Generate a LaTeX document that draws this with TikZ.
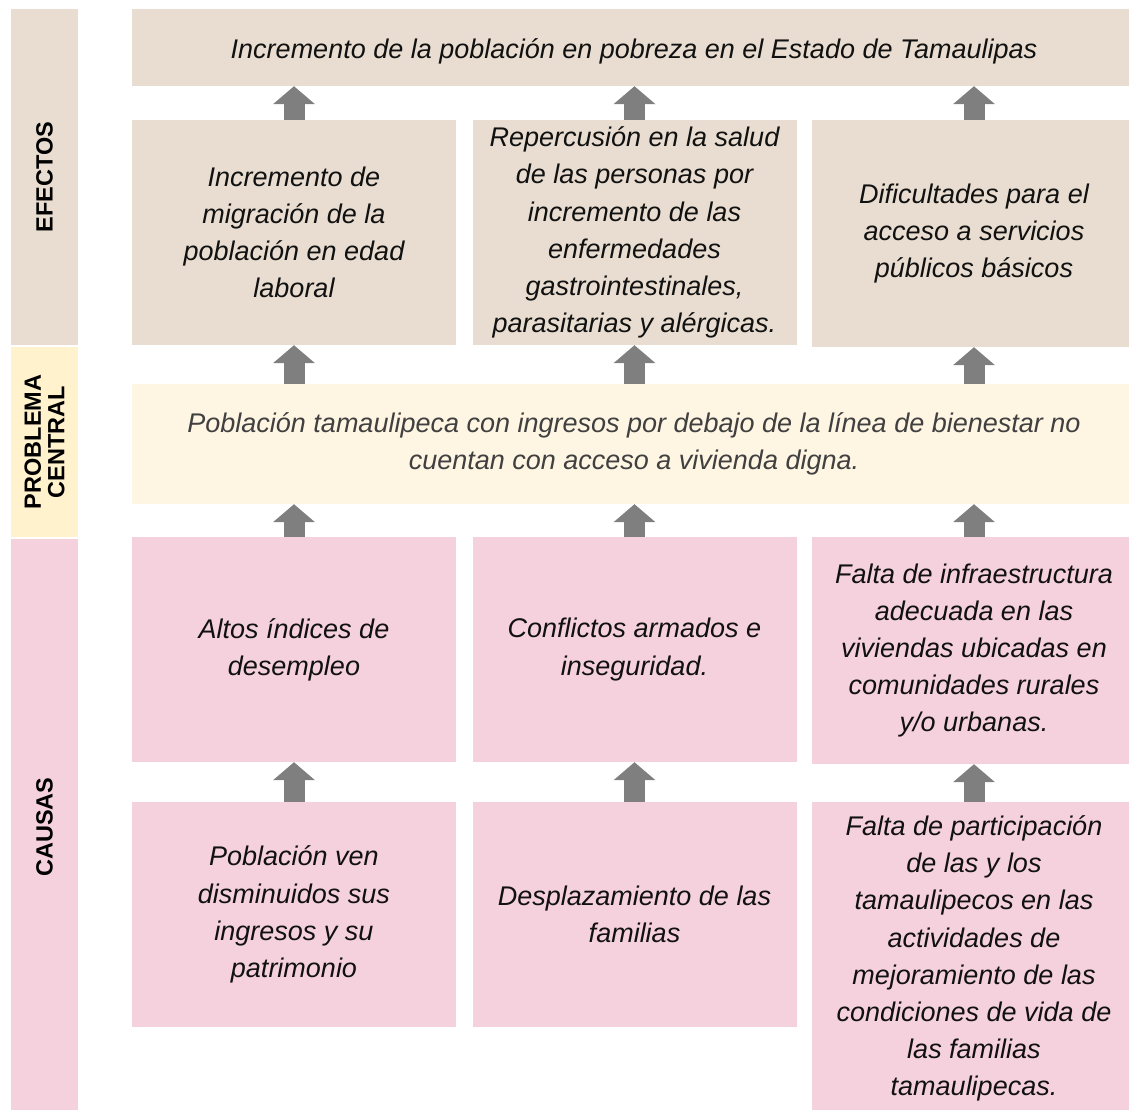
\documentclass[tikz,border=0pt]{standalone}
\usepackage{fontspec}
\setmainfont{Liberation Sans}
\usetikzlibrary{arrows.meta}
\definecolor{tanc}{HTML}{E8DDD0}
\definecolor{creamc}{HTML}{FFF5E3}
\definecolor{pclab}{HTML}{FFF2CC}
\definecolor{pinkc}{HTML}{F5D1DD}
\definecolor{arrc}{HTML}{7F7F7F}
\definecolor{txtc}{HTML}{111111}
\definecolor{ptxt}{HTML}{404040}
\newcommand\mybf{\fontsize{27}{37.2}\selectfont\itshape}
\newcommand\mylf{\fontsize{23.5}{23.5}\selectfont\bfseries}
\begin{document}
\begin{tikzpicture}[x=1pt,y=-1pt,
  box/.style={rectangle, inner sep=0pt, align=center, font=\mybf, text=txtc,
    execute at begin node={\rule{0pt}{28pt}}},
  efbox/.style={box, fill=tanc, minimum width=324, minimum height=225},
  cabox/.style={box, fill=pinkc, minimum width=324, minimum height=225},
  lab/.style={rectangle, inner sep=0pt, align=center, font=\mylf, text=black, rotate=90, minimum height=67},
  arr/.style={draw=arrc, line width=21pt, -{Triangle[width=41pt,length=18pt]}}]
\useasboundingbox (0,0) rectangle (1129,1110);
\clip (0,0) rectangle (1129,1110);
% left labels
\node[lab, fill=tanc, minimum width=336] (le) at (44.5,177) {EFECTOS};
\node[lab, fill=pclab, minimum width=190] (lp) at (44.5,442) {PROBLEMA\\CENTRAL};
\node[lab, fill=pinkc, minimum width=576] (lc) at (44.5,827) {CAUSAS};
% top
\node[box, fill=tanc, minimum width=1004, minimum height=77] (t) at (634,47.5)
  {Incremento de la población en pobreza en el Estado de Tamaulipas};
% effects
\node[efbox] (e1) at (294,232.5) {Incremento de\\migración de la\\población en edad\\laboral};
\node[efbox] (e2) at (634.5,232.5) {Repercusión en la salud\\de las personas por\\incremento de las\\enfermedades\\gastrointestinales,\\parasitarias y alérgicas.};
\node[efbox, minimum height=227] (e3) at (974,233.5) {Dificultades para el\\acceso a servicios\\públicos básicos};
% central problem
\node[box, fill=creamc, text=ptxt, minimum width=1004, minimum height=120] (p) at (634,444)
  {Población tamaulipeca con ingresos por debajo de la línea de bienestar no\\cuentan con acceso a vivienda digna.};
% causes
\node[cabox] (c1) at (294,649.5) {Altos índices de\\desempleo};
\node[cabox] (c2) at (634.5,649.5) {Conflictos armados e\\inseguridad.};
\node[cabox, minimum height=227] (c3) at (974,650.5) {Falta de infraestructura\\adecuada en las\\viviendas ubicadas en\\comunidades rurales\\y/o urbanas.};
\node[cabox] (d1) at (294,914.5) {Población ven\\disminuidos sus\\ingresos y su\\patrimonio};
\node[cabox] (d2) at (634.5,914.5) {Desplazamiento de las\\familias};
\node[cabox, minimum height=313] (d3) at (974,958.5) {Falta de participación\\de las y los\\tamaulipecos en las\\actividades de\\mejoramiento de las\\condiciones de vida de\\las familias\\tamaulipecas.};
% arrows
\foreach \e/\c/\d in {e1/c1/d1, e2/c2/d2, e3/c3/d3}{
  \draw[arr] (\e.north) -- (\e.north |- t.south);
  \draw[arr] (\e.south |- p.north) -- (\e.south);
  \draw[arr] (\c.north) -- (\c.north |- p.south);
  \draw[arr] (\d.north) -- (\c.south);
}
\end{tikzpicture}
\end{document}
